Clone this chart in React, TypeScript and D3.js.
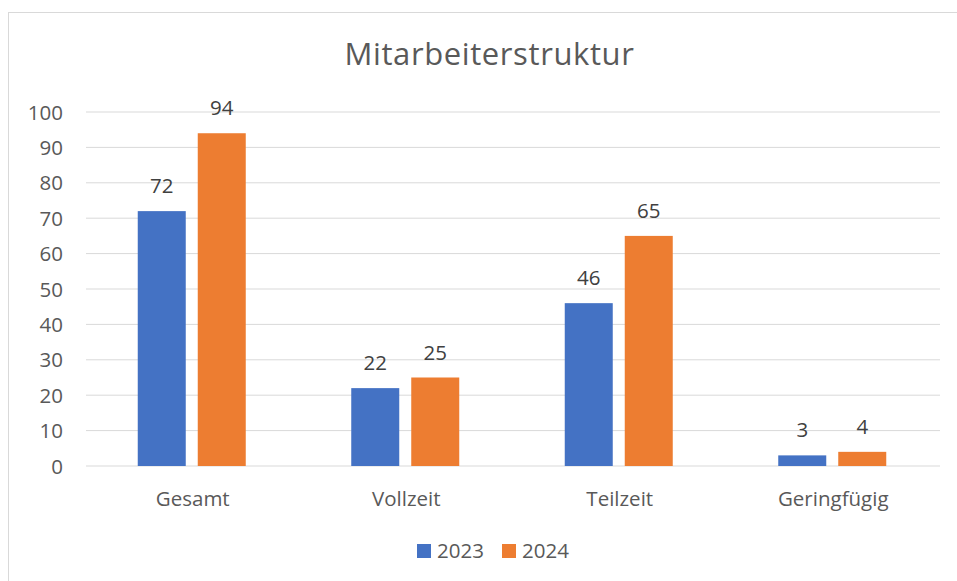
import React from "react";
import * as d3 from "d3";

const categories = ["Gesamt", "Vollzeit", "Teilzeit", "Geringfügig"];
const seriesNames = ["2023", "2024"];
const values2023 = [72, 22, 46, 3];
const values2024 = [94, 25, 65, 4];
const yTicks = [0, 10, 20, 30, 40, 50, 60, 70, 80, 90, 100];
const colors = ["#4472C4", "#ED7D31"];

const W = 957;
const H = 581;
const FONT = "'Open Sans', Carlito, Calibri, sans-serif";
const TXT = "#595959";

export default function App() {
  const left = 86;
  const right = 940;
  const top = 112;
  const bottom = 466;

  const x = d3.scaleBand<string>().domain(categories).range([left, right]).paddingInner(0).paddingOuter(0);
  // two bars of 48px with a 12px gap inside each group
  const x1 = d3.scaleBand<string>().domain(seriesNames).range([0, 108]).paddingInner(0.2).paddingOuter(0);
  const y = d3.scaleLinear().domain([0, 100]).range([bottom, top]);

  const series = [values2023, values2024];

  return (
    <svg width={W} height={H} style={{ position: "absolute", left: 0, top: 0, fontFamily: FONT }}>
      <rect x={8.5} y={12.5} width={W + 10} height={H + 10} fill="#fff" stroke="#d9d9d9" />
      <text x={489.5} y={65} textAnchor="middle" fontSize={31} letterSpacing={0.6} fill={TXT}>
        Mitarbeiterstruktur
      </text>

      {yTicks.map((t) => (
        <g key={t}>
          <line x1={left} x2={right} y1={y(t)} y2={y(t)} stroke="#d9d9d9" strokeWidth={1} />
          <text x={63} y={y(t) + 7.5} textAnchor="end" fontSize={20.5} fill={TXT}>
            {t}
          </text>
        </g>
      ))}

      {categories.map((c, i) => {
        const cx = x(c)! + x.bandwidth() / 2;
        const gx = cx - 55;
        return (
          <g key={c}>
            {series.map((vals, s) => {
              const bx = gx + x1(seriesNames[s])!;
              return (
                <g key={s}>
                  <rect x={bx} y={y(vals[i])} width={x1.bandwidth()} height={y(0) - y(vals[i])} fill={colors[s]} />
                  <text x={bx + x1.bandwidth() / 2} y={y(vals[i]) - 18} textAnchor="middle" fontSize={20.5} fill="#404040">
                    {vals[i]}
                  </text>
                </g>
              );
            })}
            <text x={cx} y={506} textAnchor="middle" fontSize={20.5} fill={TXT}>
              {c}
            </text>
          </g>
        );
      })}

      {seriesNames.map((s, i) => (
        <g key={s} transform={`translate(${417 + i * 85},544)`}>
          <rect width={14} height={14} fill={colors[i]} />
          <text x={20} y={14} fontSize={20.5} fill={TXT}>
            {s}
          </text>
        </g>
      ))}
    </svg>
  );
}
